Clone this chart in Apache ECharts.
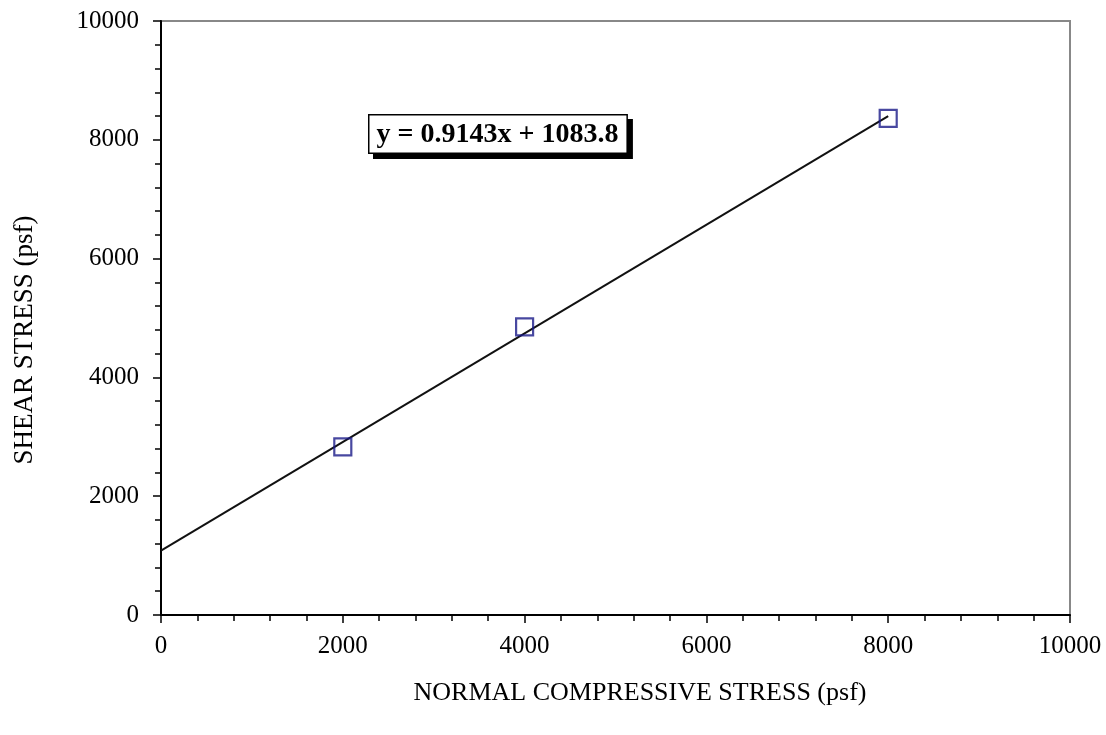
<!DOCTYPE html>
<html><head><meta charset="utf-8">
<script src="https://cdn.jsdelivr.net/npm/echarts@6/dist/echarts.min.js"></script>
<style>html,body{margin:0;padding:0;background:#fff}#c{width:1106px;height:735px}</style>
</head><body><div id="c"></div>
<script>
const xTicks = [0, 2000, 4000, 6000, 8000, 10000];
const yTicks = [0, 2000, 4000, 6000, 8000, 10000];
const normalStress = [2000, 4000, 8000];
const shearStress = [2830, 4850, 8360];
const slope = 0.9143, intercept = 1083.8;
const trendX = [0, 8000];
const equationText = 'y = 0.9143x + 1083.8';
const xTitle = 'NORMAL COMPRESSIVE STRESS (psf)';
const yTitle = 'SHEAR STRESS (psf)';

const chart = echarts.init(document.getElementById('c'));
const font = 'Liberation Serif';
const gridL = 161, gridT = 21, gridR = 1106 - 1070, gridB = 735 - 615;
function minorAxis(type, pos) {
  return {
    type: 'value', min: 0, max: 10000, interval: 400, position: pos,
    axisLine: {show: false}, axisLabel: {show: false}, splitLine: {show: false},
    axisTick: {show: true, length: 6, lineStyle: {color: '#000', width: 1.5}}
  };
}
chart.setOption({
  animation: false,
  grid: {left: gridL, top: gridT, right: gridR, bottom: gridB, show: true, borderColor: '#888', borderWidth: 2, backgroundColor: 'transparent'},
  xAxis: [{
    type: 'value', min: 0, max: 10000, interval: 2000,
    axisLine: {show: true, onZero: false, lineStyle: {color: '#000', width: 2}},
    axisTick: {show: true, length: 8, lineStyle: {color: '#000', width: 1.5}},
    axisLabel: {fontFamily: font, fontSize: 25, color: '#000', margin: 19,
      formatter: v => xTicks.includes(v) ? String(v) : ''},
    splitLine: {show: false}
  }, Object.assign(minorAxis('x', 'bottom'), {gridIndex: 0})],
  yAxis: [{
    type: 'value', min: 0, max: 10000, interval: 2000,
    axisLine: {show: true, onZero: false, lineStyle: {color: '#000', width: 2}},
    axisTick: {show: true, length: 8, lineStyle: {color: '#000', width: 1.5}},
    axisLabel: {fontFamily: font, fontSize: 25, color: '#000', margin: 22,
      formatter: v => yTicks.includes(v) ? String(v) : ''},
    splitLine: {show: false}
  }, Object.assign(minorAxis('y', 'left'), {gridIndex: 0})],
  series: [{
    type: 'line', xAxisIndex: 0, yAxisIndex: 0,
    data: trendX.map(x => [x, slope * x + intercept]),
    symbol: 'none', lineStyle: {color: '#111', width: 2}, silent: true, z: 2
  }, {
    type: 'scatter', xAxisIndex: 0, yAxisIndex: 0,
    data: normalStress.map((x, i) => [x, shearStress[i]]),
    symbol: 'rect', symbolSize: 17,
    itemStyle: {color: 'rgba(0,0,0,0)', borderColor: '#1a1a88', borderWidth: 2.2}, z: 3
  }],
  graphic: [{
    type: 'text', left: 368, top: 114, z: 10,
    style: {text: equationText, font: 'bold 28px "Liberation Serif"', fill: '#000',
      backgroundColor: '#fff', borderColor: '#000', borderWidth: 1.5,
      padding: [5, 8, 4, 7],
      shadowColor: '#000', shadowOffsetX: 5, shadowOffsetY: 5, shadowBlur: 0}
  }, {
    type: 'text', x: 640, y: 693, z: 10,
    style: {text: xTitle, font: '26px "Liberation Serif"', fill: '#000', align: 'center', verticalAlign: 'middle'}
  }, {
    type: 'text', rotation: Math.PI / 2, x: 25, y: 340, z: 10,
    style: {text: yTitle, font: '27px "Liberation Serif"', fill: '#000', align: 'center', verticalAlign: 'middle'}
  }]
});
</script></body></html>
